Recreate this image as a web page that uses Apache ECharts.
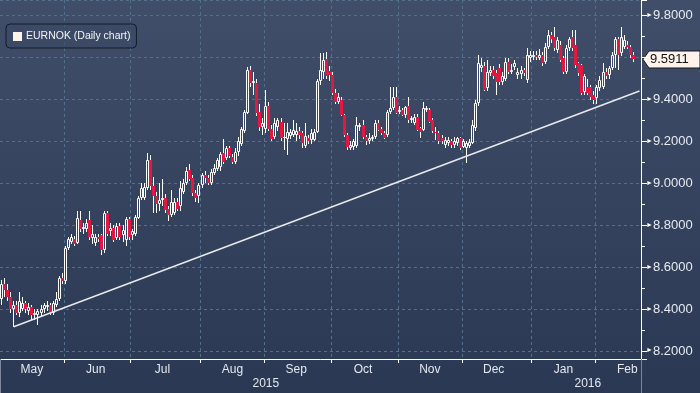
<!DOCTYPE html>
<html><head><meta charset="utf-8">
<script src="https://cdn.jsdelivr.net/npm/echarts@6/dist/echarts.min.js"></script>
<style>html,body{margin:0;padding:0;background:#2c3955;}#c{width:700px;height:393px;}</style>
</head><body><div id="c"></div><script>
// ---- data (EURNOK daily, 1 May 2015 – 17 Feb 2016) ----
const seriesName = 'EURNOK (Daily chart)';
const openV = [
 8.45,8.52,8.49,8.46,8.40,8.42,8.38,8.40,8.43,8.39,8.41,8.37,8.37,8.38,8.40,8.41,8.42,8.38,8.42,8.45,8.55,
 8.535,8.69,8.72,8.735,8.715,8.825,8.78,8.78,8.825,8.74,8.715,8.745,8.754,8.68,8.86,8.775,8.787,8.74,8.797,8.754,8.73,8.83,
 8.754,8.76,8.835,8.93,8.93,8.98,9.11,8.985,8.94,8.90,8.92,8.93,8.88,8.85,8.86,8.91,8.89,8.96,9.0,9.064,9.026,8.955,8.94,
 8.99,9.04,9.025,9.0,9.05,9.07,9.08,9.145,9.12,9.17,9.126,9.10,9.15,9.19,9.25,9.336,9.54,9.477,9.48,9.34,9.27,
 9.26,9.37,9.26,9.22,9.27,9.295,9.215,9.21,9.225,9.23,9.23,9.25,9.24,9.18,9.215,9.205,9.207,9.247,9.487,9.53,9.594,9.535,
 9.515,9.43,9.39,9.40,9.326,9.23,9.17,9.175,9.18,9.27,9.28,9.223,9.20,9.21,9.22,9.29,9.26,9.24,9.23,9.34,9.36,9.41,
 9.34,9.35,9.326,9.37,9.30,9.287,9.318,9.264,9.255,9.35,9.35,9.30,9.247,9.24,9.215,9.183,9.193,9.20,9.183,9.193,9.215,
 9.175,9.17,9.18,9.193,9.264,9.384,9.55,9.56,9.454,9.527,9.54,9.527,9.55,9.486,9.50,9.58,9.533,9.557,9.517,9.52,9.54,9.494,9.60,
 9.605,9.613,9.60,9.613,9.58,9.652,9.707,9.70,9.637,9.66,9.597,9.533,9.645,9.70,9.66,9.573,9.565,9.438,9.46,9.46,9.42,
 9.406,9.454,9.46,9.533,9.517,9.55,9.613,9.69,9.62,9.652,9.66,9.652,9.613
];
const closeV = [
 8.52,8.49,8.46,8.40,8.42,8.38,8.44,8.43,8.40,8.41,8.37,8.38,8.39,8.40,8.42,8.42,8.38,8.43,8.45,8.55,8.535,
 8.69,8.735,8.745,8.71,8.835,8.78,8.79,8.81,8.745,8.76,8.744,8.735,8.682,8.86,8.76,8.787,8.73,8.797,8.744,8.778,8.83,8.744,
 8.774,8.84,8.93,8.98,8.984,9.11,8.985,8.94,8.90,8.92,8.93,8.875,8.85,8.91,8.91,8.88,8.98,9.0,9.06,9.02,8.955,8.93,8.99,
 9.04,9.025,9.0,9.055,9.075,9.11,9.14,9.10,9.17,9.13,9.10,9.15,9.20,9.26,9.34,9.54,9.48,9.49,9.336,9.27,9.29,
 9.37,9.26,9.21,9.29,9.30,9.215,9.223,9.245,9.247,9.255,9.25,9.23,9.193,9.225,9.20,9.24,9.247,9.487,9.54,9.59,9.51,9.515,
 9.43,9.39,9.41,9.326,9.23,9.175,9.185,9.20,9.28,9.28,9.223,9.20,9.215,9.22,9.29,9.255,9.24,9.217,9.34,9.36,9.41,9.336,
 9.35,9.326,9.366,9.30,9.31,9.318,9.255,9.247,9.36,9.36,9.295,9.25,9.24,9.20,9.20,9.207,9.207,9.183,9.20,9.217,9.167,
 9.20,9.193,9.195,9.28,9.384,9.575,9.565,9.446,9.533,9.541,9.51,9.486,9.486,9.51,9.58,9.533,9.54,9.573,9.533,9.54,9.525,9.613,9.613,
 9.613,9.605,9.613,9.573,9.652,9.707,9.69,9.645,9.685,9.59,9.533,9.645,9.69,9.645,9.565,9.525,9.43,9.51,9.43,9.414,9.396,
 9.46,9.494,9.533,9.51,9.55,9.613,9.69,9.613,9.70,9.685,9.652,9.613,9.5911
];
const lowV = [
 8.42,8.46,8.44,8.38,8.316,8.37,8.36,8.39,8.38,8.37,8.35,8.35,8.324,8.36,8.38,8.39,8.37,8.37,8.41,8.44,8.52,
 8.52,8.68,8.71,8.70,8.71,8.77,8.76,8.77,8.73,8.71,8.70,8.72,8.66,8.67,8.75,8.75,8.72,8.73,8.73,8.72,8.70,8.73,
 8.73,8.75,8.83,8.92,8.92,8.97,8.97,8.86,8.86,8.87,8.89,8.86,8.82,8.84,8.85,8.87,8.87,8.95,8.99,9.01,8.94,8.91,8.905,
 8.98,9.0,8.99,8.99,9.04,9.06,9.06,9.09,9.11,9.12,9.09,9.09,9.13,9.18,9.24,9.33,9.46,9.42,9.32,9.25,9.23,
 9.24,9.25,9.20,9.21,9.25,9.20,9.16,9.135,9.21,9.22,9.20,9.21,9.17,9.17,9.19,9.19,9.20,9.24,9.47,9.50,9.50,9.49,
 9.42,9.38,9.38,9.32,9.22,9.16,9.16,9.16,9.17,9.25,9.21,9.183,9.19,9.20,9.21,9.25,9.23,9.21,9.22,9.33,9.35,9.33,
 9.33,9.32,9.31,9.29,9.29,9.28,9.25,9.217,9.25,9.34,9.29,9.24,9.207,9.19,9.19,9.17,9.18,9.17,9.17,9.18,9.16,
 9.17,9.096,9.17,9.19,9.25,9.37,9.53,9.44,9.44,9.51,9.50,9.42,9.47,9.47,9.49,9.52,9.52,9.54,9.50,9.50,9.51,9.48,9.58,
 9.59,9.59,9.59,9.56,9.57,9.64,9.67,9.63,9.62,9.58,9.52,9.52,9.63,9.63,9.55,9.51,9.42,9.42,9.42,9.40,9.38,
 9.38,9.44,9.45,9.50,9.50,9.54,9.55,9.54,9.61,9.64,9.64,9.60,9.58
];
const highV = [
 8.54,8.55,8.52,8.48,8.44,8.44,8.48,8.46,8.44,8.43,8.42,8.40,8.40,8.42,8.43,8.44,8.43,8.44,8.48,8.56,8.57,
 8.70,8.745,8.76,8.75,8.87,8.87,8.81,8.83,8.87,8.80,8.76,8.76,8.76,8.87,8.87,8.81,8.80,8.81,8.81,8.80,8.84,8.84,
 8.78,8.85,8.94,9.00,9.00,9.145,9.135,9.03,8.96,9.0,9.02,8.95,8.89,8.97,8.93,8.93,9.01,9.02,9.08,9.09,9.04,8.97,9.0,
 9.05,9.06,9.04,9.07,9.09,9.12,9.15,9.21,9.18,9.18,9.14,9.17,9.22,9.27,9.35,9.557,9.56,9.53,9.50,9.38,9.31,
 9.445,9.39,9.28,9.31,9.31,9.31,9.29,9.29,9.26,9.30,9.29,9.27,9.25,9.29,9.23,9.26,9.26,9.50,9.62,9.62,9.625,9.56,
 9.53,9.45,9.43,9.41,9.33,9.24,9.20,9.21,9.318,9.29,9.30,9.23,9.24,9.23,9.30,9.30,9.27,9.25,9.35,9.46,9.46,9.46,
 9.37,9.36,9.37,9.414,9.32,9.33,9.33,9.27,9.39,9.37,9.36,9.31,9.27,9.25,9.23,9.22,9.22,9.21,9.22,9.223,9.22,
 9.21,9.20,9.21,9.30,9.40,9.613,9.60,9.58,9.59,9.56,9.56,9.54,9.57,9.53,9.60,9.60,9.57,9.59,9.55,9.56,9.55,9.646,9.63,
 9.63,9.63,9.64,9.625,9.67,9.73,9.72,9.748,9.70,9.68,9.61,9.66,9.70,9.73,9.73,9.58,9.57,9.52,9.50,9.47,9.44,
 9.47,9.51,9.573,9.55,9.56,9.625,9.70,9.70,9.748,9.708,9.68,9.66,9.625
];
const trendPoints = [[4, 8.316], [210, 9.441]];   // [category index, value]
const lastPrice = 9.5911;
const monthNames = ['Jan','Feb','Mar','Apr','May','Jun','Jul','Aug','Sep','Oct','Nov','Dec'];
const yTickValues = [8.2, 8.4, 8.6, 8.8, 9.0, 9.2, 9.4, 9.6, 9.8];

// category axis: weekdays from 2015-05-01 (211 slots, last two empty)
const dates = [];
(function(){ const d = new Date(Date.UTC(2015,4,1)); while (dates.length < 211) { const w = d.getUTCDay(); if (w !== 0 && w !== 6) dates.push(d.toISOString().slice(0,10)); d.setUTCDate(d.getUTCDate()+1); } })();

const monthStart = new Set(), monthMid = new Set(), yearMid = new Set(), yearStart = new Set();
(function(){
  const seenMid = {};
  const yearIdx = {};
  dates.forEach((s,i) => {
    const m = s.slice(0,7), day = +s.slice(8,10), y = s.slice(0,4);
    if (i > 0 && dates[i-1].slice(0,7) !== m) monthStart.add(i);
    if (i > 0 && dates[i-1].slice(0,4) !== y) yearStart.add(i);
    if (!seenMid[m] && day >= 15) { seenMid[m] = 1; monthMid.add(i); }
    (yearIdx[y] = yearIdx[y] || []).push(i);
  });
  Object.keys(yearIdx).forEach(y => { const a = yearIdx[y]; yearMid.add(Math.round((a[0] + a[a.length-1]) / 2)); });
})();

const candleData = openV.map((o,i) => [i, o, closeV[i], lowV[i], highV[i]]);
const trendData = trendPoints.map(p => [dates[p[0]], p[1]]);

const RED = '#e3173f', WHITE = '#ffffff';
function renderCandle(params, api) {
  const i = api.value(0), o = api.value(1), c = api.value(2), l = api.value(3), h = api.value(4);
  const po = api.coord([i, o]), pc = api.coord([i, c]), pl = api.coord([i, l]), ph = api.coord([i, h]);
  const px = Math.floor(po[0]);
  const top = Math.round(Math.min(po[1], pc[1])), bot = Math.round(Math.max(po[1], pc[1]));
  const yh = Math.round(ph[1]), yl = Math.round(pl[1]);
  const ch = [];
  const wick = (y1, y2) => ch.push({type:'line', shape:{x1:px+0.5, y1:y1, x2:px+0.5, y2:y2}, style:{stroke:WHITE, lineWidth:1}});
  if (c >= o) {
    if (yh < top) wick(yh, top);
    if (yl > bot) wick(bot, yl);
    if (bot - top >= 2) ch.push({type:'rect', shape:{x:px-0.5, y:top+0.5, width:2, height:bot-top-1}, style:{stroke:WHITE, fill:null, lineWidth:1}});
    else ch.push({type:'rect', shape:{x:px-1, y:top, width:3, height:Math.max(1,bot-top)}, style:{fill:WHITE}});
  } else {
    wick(yh, yl);
    ch.push({type:'rect', shape:{x:px-1, y:top, width:3, height:Math.max(1,bot-top)}, style:{fill:RED}});
  }
  return {type:'group', children: ch};
}

const chart = echarts.init(document.getElementById('c'), null, {renderer:'canvas'});
const FONT = 'Liberation Sans, Arial, sans-serif';
const gridColor = '#52708b';
chart.setOption({
  animation: false,
  backgroundColor: new echarts.graphic.LinearGradient(0,0,0,1,[
    {offset:0, color:'#414e6a'}, {offset:0.5, color:'#36435f'}, {offset:1, color:'#2b3853'}]),
  textStyle: {fontFamily: FONT},
  grid: {left:0, right:59, top:0, bottom:34},
  legend: {
    data: [seriesName], left: 6, top: 24, orient: 'horizontal',
    padding: [7, 6, 6, 7], itemWidth: 9, itemHeight: 9, icon: 'rect', itemGap: 0,
    backgroundColor: 'rgba(60,74,101,0.6)', borderColor: '#141a27', borderWidth: 1, borderRadius: 4,
    textStyle: {color: '#f2f4f8', fontSize: 10.5, fontFamily: FONT, padding: [0,0,0,-1]},
    selectedMode: false
  },
  xAxis: [{
    type: 'category', data: dates, boundaryGap: true, position: 'bottom',
    axisLine: {show: true, lineStyle: {color: WHITE, width: 1}},
    axisTick: {show: true, length: 4, interval: (i) => monthStart.has(i), lineStyle: {color: WHITE}},
    axisLabel: {interval: (i) => monthMid.has(i), formatter: (v) => monthNames[+v.slice(5,7)-1],
      color: '#e3e8ef', fontSize: 12, margin: 5, fontFamily: FONT},
    splitLine: {show: true, interval: (i) => monthStart.has(i), lineStyle: {color: gridColor, type: [3,3], width: 1}}
  }, {
    type: 'category', data: dates, boundaryGap: true, position: 'bottom', offset: 0,
    axisLine: {show: false},
    axisTick: {show: true, length: 34, interval: (i) => yearStart.has(i), lineStyle: {color: '#7f889a'}},
    axisLabel: {interval: (i) => yearMid.has(i), formatter: (v) => v.slice(0,4),
      color: '#e3e8ef', fontSize: 12, margin: 19, fontFamily: FONT},
    splitLine: {show: false}
  }],
  yAxis: {
    type: 'value', position: 'right', min: 8.1618, max: 9.875, scale: true,
    splitNumber: 8, minInterval: 0.2, maxInterval: 0.2,
    axisLine: {show: true, lineStyle: {color: WHITE, width: 1}},
    axisTick: {show: true, length: 6, lineStyle: {color: WHITE}},
    minorTick: {show: true, splitNumber: 2, length: 4, lineStyle: {color: WHITE}},
    axisLabel: {
      showMinLabel: false, showMaxLabel: false, margin: 5, color: '#e6eaf1', fontSize: 13, fontFamily: FONT,
      formatter: (v) => {
        if (!yTickValues.some(t => Math.abs(t - v) < 1e-6)) return '';
        if (Math.abs(v - lastPrice) < 0.05) return '';
        return '{a|►}' + v.toFixed(4);
      },
      rich: {a: {fontSize: 7, color: WHITE, padding: [0, 0, 1, 0]}}
    },
    splitLine: {show: true, lineStyle: {color: gridColor, type: [3,3], width: 1}}
  },
  series: [{
    name: seriesName, type: 'custom', renderItem: renderCandle, data: candleData,
    encode: {x: 0, y: [1,2,3,4]}, itemStyle: {color: '#fff3ec'}, clip: true, z: 3
  }, {
    name: 'trend', type: 'line', data: trendData, symbol: 'none', silent: true, z: 4,
    lineStyle: {color: '#e8eaf0', width: 1.5}
  }]
});

// last-price flag on the right axis
const yp = chart.convertToPixel({yAxisIndex: 0}, lastPrice);
const xAxisEnd = chart.getWidth() - 59;
chart.setOption({graphic: [{
  type: 'group', z: 100, children: [
    {type: 'polygon', shape: {points: [[xAxisEnd+2, yp], [xAxisEnd+8, yp-8.5], [700, yp-8.5], [700, yp+8.5], [xAxisEnd+8, yp+8.5]]},
     style: {fill: '#fdf3ea', stroke: '#161b24', lineWidth: 1}},
    {type: 'text', x: xAxisEnd + 9, y: yp, style: {text: lastPrice.toFixed(4), fill: '#111', font: '13px ' + FONT, textVerticalAlign: 'middle'}}
  ]
}]});
</script></body></html>
